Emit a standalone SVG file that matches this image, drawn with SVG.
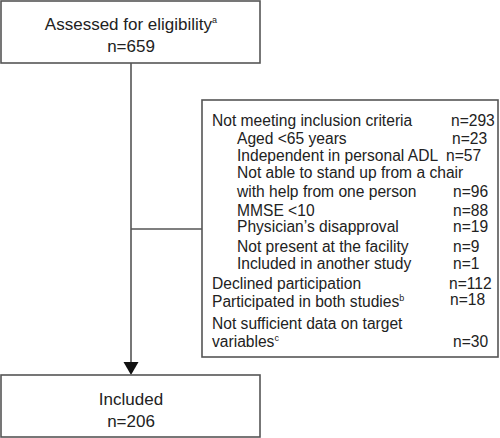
<svg xmlns="http://www.w3.org/2000/svg" width="500" height="438" viewBox="0 0 500 438">
<style>
.box{fill:#fff;stroke:#555;stroke-width:1.6}
.t{font-family:"Liberation Sans",Arial,sans-serif;fill:#222}
.c{font-size:17px;text-anchor:middle}
.s{font-size:15.6px}
.sup{font-size:9px}
.ln{stroke:#555;stroke-width:1.6;fill:none}
</style>
<rect width="500" height="438" fill="#fff"/>
<g id="connectors">
<line class="ln" x1="131" y1="63" x2="131" y2="363"/>
<polygon points="123.5,362 138.5,362 131,375" fill="#111"/>
<line class="ln" x1="131" y1="229" x2="202" y2="229"/>
</g>
<g id="assessed">
<rect class="box" x="1" y="1" width="259" height="62"/>
<text class="t c" x="131" y="30">Assessed for eligibility<tspan class="sup" dy="-7">a</tspan></text>
<text class="t c" x="131" y="52">n=659</text>
</g>
<g id="excluded">
<rect class="box" x="202" y="100" width="296" height="257"/>
<text class="t s" x="212" y="125.5">Not meeting inclusion criteria</text>
<text class="t s" x="451" y="125.5">n=293</text>
<text class="t s" x="237" y="143.5">Aged &lt;65 years</text>
<text class="t s" x="452" y="143.5">n=23</text>
<text class="t s" x="237" y="160.5">Independent in personal ADL</text>
<text class="t s" x="446" y="160.5">n=57</text>
<text class="t s" x="237" y="178">Not able to stand up from a chair</text>
<text class="t s" x="237" y="197">with help from one person</text>
<text class="t s" x="453" y="197">n=96</text>
<text class="t s" x="237" y="215.5">MMSE &lt;10</text>
<text class="t s" x="453" y="215.5">n=88</text>
<text class="t s" x="237" y="232">Physician’s disapproval</text>
<text class="t s" x="453" y="232">n=19</text>
<text class="t s" x="237" y="252">Not present at the facility</text>
<text class="t s" x="453" y="252">n=9</text>
<text class="t s" x="237" y="268.5">Included in another study</text>
<text class="t s" x="453" y="268.5">n=1</text>
<text class="t s" x="212" y="289">Declined participation</text>
<text class="t s" x="449" y="289">n=112</text>
<text class="t s" x="212" y="307">Participated in both studies<tspan class="sup" dy="-6">b</tspan></text>
<text class="t s" x="450" y="305">n=18</text>
<text class="t s" x="212" y="329">Not sufficient data on target</text>
<text class="t s" x="212" y="347">variables<tspan class="sup" dy="-6">c</tspan></text>
<text class="t s" x="453" y="347">n=30</text>
</g>
<g id="included">
<rect class="box" x="1" y="375" width="259" height="62"/>
<text class="t c" x="131" y="405">Included</text>
<text class="t c" x="131" y="427">n=206</text>
</g>
</svg>
